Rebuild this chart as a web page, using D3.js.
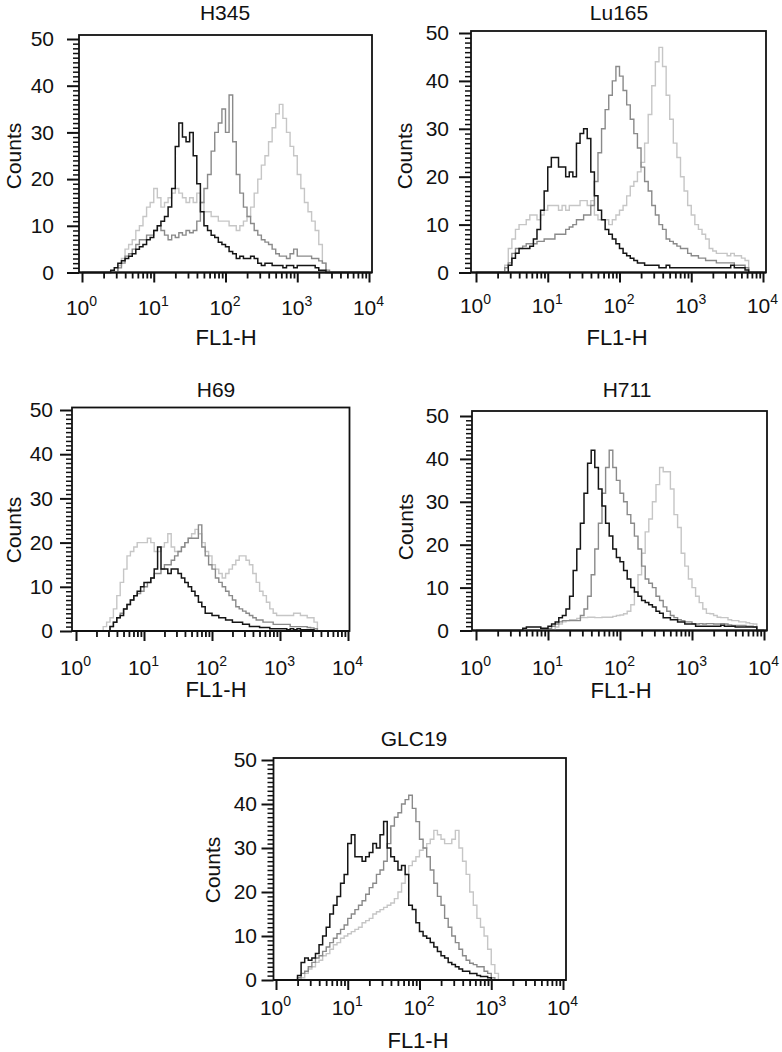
<!DOCTYPE html>
<html>
<head>
<meta charset="utf-8">
<script src="https://cdn.jsdelivr.net/npm/d3@7"></script>
<style>
  html, body { margin: 0; padding: 0; background: #ffffff; }
  svg { display: block; font-family: "Liberation Sans", Arial, Helvetica, sans-serif; }
</style>
</head>
<body>
<svg id="chart" width="782" height="1052"></svg>
<script>
// ---------------- DATA ----------------
// Histograms: counts per log-bin of width 0.05 decades, from 10^0 to 10^4 (80 bins)
const binWidthLog = 0.05;
const cellLines = ["H345", "Lu165", "H69", "H711", "GLC19"];
const xTickExps = [0, 1, 2, 3, 4];
const yTickValues = [0, 10, 20, 30, 40, 50];
const xAxisTitle = "FL1-H";
const yAxisTitle = "Counts";

const h345Black = [
  0,0,0,0,0,0,0,0,0.5,1,
  2,2.5,3,3.5,4,5,5.5,6,7,7.5,
  9,10,11,12,14,18,27,32,29,28,
  30,25,19,13,10,9,8,7.5,6.5,6,
  5.5,4.5,4,3,3.5,3,3,3.5,3,2,
  1.5,2,2,1.5,1.5,1.5,1,1.5,1.5,1,
  1.5,1.5,1.5,1.5,1.5,1,0.5,0.5,0,0,
  0,0,0,0,0,0,0,0,0,0];
const h345Mid = [
  0,0,0,0,0,0,0,0,0,0,
  1,2,3.5,4,5,6,7,7,8,8,
  9,10,9,8,7,8,7.5,8.5,8,9,
  8.5,9,11,15,18,21,26,30,32,35,
  30,38,28,21,17,14,12,10.5,9,8,
  7,6.5,6,5,4,3.5,3.5,3,4,5,
  3.5,3.5,3.5,3.5,3,3,2.5,2,0.5,0,
  0,0,0,0,0,0,0,0,0,0];
const h345Light = [
  0,0,0,0,0,0,0,0,0,0,
  1.5,3,5,6,7,9,10,12,14,15,
  18,16,14,15,16,17,18,17,16,15,
  16,15,17,15,13,13,12,12,11,11,
  11,10,10,9,10,11,12,14,17,20,
  23,25,28,31,34,36,33,30,27,25,
  21,18,15,13,11,9,6,2,0,0,
  0,0,0,0,0,0,0,0,0,0];

const lu165Black = [
  0,0,0,0,0,0,0,0,0,1.5,
  3,4,5,5,5,5.5,7,9,13,17,
  22,24,24,22,22,20,21,20,27,29,
  30,28,21,16,13,11,9,8,7,6,
  5,4,3.5,3,2.5,2,2,1.5,1.5,1.5,
  1.5,1,1,1.5,1,1,1,1,1,1,
  1,1,1,1,1,1,1,1,1,1,
  1,1.5,1,1,1,0.5,0,0,0,0];
const lu165Mid = [
  0,0,0,0,0,0,0,0,1,2,
  4,5,5,5.5,6,6,6,6.5,6.5,7,
  7,7,8,8,8,9,9.5,10,11,11,
  12,12,14,19,25,30,34,37,40,43,
  41,38,35,32,29,26,22,19,17,14,
  12,10,9,7,6.5,6,5.5,5,5,4,
  3.5,3.5,3,3,2.5,2.5,2.5,2,2,2,
  2,2,1.5,1.5,1.5,1,0,0,0,0];
const lu165Light = [
  0,0,0,0,0,0,0,0,1.5,5,
  7,9,10,10,11,12,12,11,12,13,
  14,14,14,13,14,13,14,14,14,15,
  15,14,15,12,11,11,11,10,11,12,
  13,14,16,18,19,21,23,27,33,39,
  44,47,43,37,32,27,24,20,17,14,
  12,10,9,8,7,5,4.5,4,4,4,
  3.5,4,3.5,3.5,3,2.5,0,0,0,0];

const h69Black = [
  0,0,0,0,0,0,0,0,0,0,
  1,2,3,3.5,5,6,7,8,9,10,
  11,11,12,14,19,14,14,13,14,14,
  13,12,11,10,9,8,6.5,5.5,4,4,
  3.5,3.5,3,3,2.5,2.5,2,2,2,1.5,
  1.5,1,1,1,0.8,0.8,0.8,0.5,0.5,0.5,
  0.5,0.5,0.3,0.5,0.3,0.5,0.3,0.3,0.3,0.3,
  0,0,0,0,0,0,0,0,0,0];
const h69Mid = [
  0,0,0,0,0,0,0,0,0,0,
  1,2,3,4,5,6,7,8,8.5,9,
  10,11,12,13,13,14,15,15,16,17,
  18,19,20,21,21,21,24,19,17,15,
  14,12,11,10,9,8,7,5.5,5,4.5,
  4,3.5,3,2.5,2.5,2,2,2,1.5,1.5,
  1.5,1.5,1.5,1,1,1,1,1,0.8,0.7,
  0.5,0,0,0,0,0,0,0,0,0];
const h69Light = [
  0,0,0,0,0,0,0,0,1,2,
  3,5,8,11,14,17,18,19,20,20,
  20,21,20,18,18,19,20,22,19,18,
  18,19,20,21,22,23,22,20,18,17,
  15,14,13,12,13,14,15,16,17,17,
  16,15,13,11,9,8,6.5,5,4,3.5,
  3.5,3.5,3.5,3.5,4,4,3.5,3.5,3,3,
  2,0,0,0,0,0,0,0,0,0];

const h711Black = [
  0,0,0,0,0,0,0,0,0,0,
  0,0,0,0.5,0.8,0.8,0.8,0.8,0.5,0.5,
  1,1.5,2,3,3.5,5,8,14,19,25,
  32,39,42,38,33,29,25,22,19,17,
  16,14,12,10,9,8,7,6.5,6,5.5,
  4.5,4,3,3,2.5,2.5,2,2,1.5,1.5,
  1.5,1,1,1,1,1,1,1,1.2,1,
  1,1,0.8,0.8,0.8,0.8,0.8,0.8,0,0];
const h711Mid = [
  0,0,0,0,0,0,0,0,0,0,
  0,0,0,0,0,0,0,0,0,0,
  0.5,1,1.5,2,2.3,2.3,2.3,2.3,2.3,3.5,
  5,8,13,19,25,32,38,42,38,35,
  32,30,27,25,22,19,15,12,11,10,
  8,7,5.5,4.5,3.5,3,2.5,2.3,2,2,
  1.6,1.5,1.6,1.5,1.6,1.6,1.5,1.5,1.6,1.5,
  1.3,1.2,1.2,1.2,1.2,1,1,0.8,0,0];
const h711Light = [
  0,0,0,0,0,0,0,0,0,0,
  0,0,0,0,0,0,0,0,0,0,
  0,0,0.8,1.5,2,2.3,2.5,2.5,2.8,3,
  3,3.1,3.1,3,3,3.1,3.1,3.1,3.3,3.5,
  3.6,3.9,4.5,6,9,13,18,23,26,30,
  34,38,37,37,33,27,24,18,15,12,
  10,8,6.5,5,4,3.9,3.5,3.1,3,3,
  2.5,2.3,2.3,2,2,1.8,1.6,1.5,0,0];

const glc19Black = [
  0,0,0,0,0,0,1,4,5,4.5,
  5,6,8,10,12,15,17,19,22,24,
  31,33,28,28,27,28,29,31,30,33,
  36,30,28,27,25,26,24,17,16,13,
  11,10,9.5,8.5,7.5,6.5,5.5,5,4,3.5,
  3,2.5,2,2,1.5,1.5,1,0.8,0.8,0.5,
  0,0,0,0,0,0,0,0,0,0,
  0,0,0,0,0,0,0,0,0,0];
const glc19Mid = [
  0,0,0,0,0,0,0.5,1.5,2,3,
  4,5,5.5,6.5,7.5,8.5,9.5,10.5,11.5,12.5,
  14,15,16,17,18,19.5,21,22,24,25,
  27,31,35,37,38,40,41,42,39,36,
  32,30,28,25,22,19,17,14,12,10,
  8.5,7,5.5,4.5,3.8,3.5,3,3,2,1.5,
  0.5,0,0,0,0,0,0,0,0,0,
  0,0,0,0,0,0,0,0,0,0];
const glc19Light = [
  0,0,0,0,0,0,0,0.5,1.5,2.5,
  3,4,4.5,5.5,6,7,8,8.5,9.5,10,
  10.5,11,11.5,12,13,13.5,14,15,15.5,16,
  16.5,17,17.5,18.5,20,22,24,26,27,28,
  29.5,30,31,32,34,33,32,31,31,32,
  34,30,27,24,20,17,14,12,10,7,
  3.5,1.5,0,0,0,0,0,0,0,0,
  0,0,0,0,0,0,0,0,0,0];

// ---------------- LAYOUT / STYLE ----------------
const seriesColors = ["#c6c6c6", "#8a8a8a", "#151515"]; // light, mid, black (draw order)
const fs = { tick: 21, sup: 14, title: 21, xTitle: 22, yTitle: 21 };

const panels = [
  { title: cellLines[0], series: [h345Light, h345Mid, h345Black],
    xl: 82, xr: 369, y0: 272.5, y50: 39, bl: 79, br: 372, bt: 35,
    tx: 225, ty: 20, labR: 54, xlabY: 315, fx: 226, fy: 345, cx: 13, cy: 156 },
  { title: cellLines[1], series: [lu165Light, lu165Mid, lu165Black],
    xl: 476, xr: 763, y0: 272.5, y50: 33, bl: 471, br: 766, bt: 31,
    tx: 619, ty: 20, labR: 449, xlabY: 313, fx: 617, fy: 345, cx: 404, cy: 156 },
  { title: cellLines[2], series: [h69Light, h69Mid, h69Black],
    xl: 76, xr: 348, y0: 631, y50: 410, bl: 72, br: 349.5, bt: 407.5,
    tx: 216, ty: 397, labR: 53, xlabY: 675, fx: 216, fy: 697, cx: 13, cy: 530 },
  { title: cellLines[3], series: [h711Light, h711Mid, h711Black],
    xl: 476, xr: 764, y0: 630.5, y50: 416, bl: 472, br: 767, bt: 411,
    tx: 627, ty: 397, labR: 449, xlabY: 675, fx: 621, fy: 698, cx: 405, cy: 527 },
  { title: cellLines[4], series: [glc19Light, glc19Mid, glc19Black],
    xl: 276, xr: 563, y0: 980, y50: 760, bl: 273.5, br: 566, bt: 758,
    tx: 414, ty: 746, labR: 257, xlabY: 1015, fx: 418, fy: 1048, cx: 212, cy: 870 }
];

const svg = d3.select("#chart");
svg.append("rect").attr("width", 782).attr("height", 1052).attr("fill", "#fff");

panels.forEach(p => {
  const g = svg.append("g");
  const x = d3.scaleLog().domain([1, 1e4]).range([p.xl, p.xr]);
  const y = d3.scaleLinear().domain([0, 50]).range([p.y0, p.y50]);

  // frame
  g.append("rect")
    .attr("x", p.bl).attr("y", p.bt)
    .attr("width", p.br - p.bl).attr("height", p.y0 - p.bt)
    .attr("fill", "#fff").attr("stroke", "#111").attr("stroke-width", 1.8);

  // histograms
  const line = d3.line()
    .x(d => x(d[0])).y(d => y(d[1]))
    .curve(d3.curveStepAfter);
  p.series.forEach((vals, si) => {
    const pts = vals.map((v, i) => [Math.pow(10, i * binWidthLog), v]);
    pts.push([1e4, vals[vals.length - 1]]);
    g.append("path")
      .attr("d", line(pts))
      .attr("fill", "none")
      .attr("stroke", seriesColors[si])
      .attr("stroke-width", si === 2 ? 1.5 : 1.4)
      .attr("stroke-linejoin", "miter");
  });

  const majors = xTickExps.map(e => Math.pow(10, e));
  // x axis: minor ticks
  g.append("g")
    .attr("transform", `translate(0,${p.y0})`)
    .call(d3.axisBottom(x).tickValues(x.ticks().filter(v => !majors.includes(v)))
      .tickSize(6).tickFormat("").tickSizeOuter(0))
    .call(a => a.select(".domain").remove())
    .call(a => a.selectAll("line").attr("stroke", "#111").attr("stroke-width", 1.8));
  // x axis: major ticks + labels
  const xMajor = g.append("g")
    .attr("transform", `translate(0,${p.y0})`)
    .call(d3.axisBottom(x).tickValues(majors)
      .tickSize(10).tickFormat("").tickSizeOuter(0))
    .call(a => a.select(".domain").remove())
    .call(a => a.selectAll("line").attr("stroke", "#111").attr("stroke-width", 2));
  xMajor.selectAll(".tick").each(function(d) {
    const t = d3.select(this).append("text")
      .attr("y", p.xlabY - p.y0)
      .attr("x", -1)
      .attr("text-anchor", "middle")
      .attr("fill", "#111")
      .attr("font-size", fs.tick)
      .attr("font-family", "'Liberation Sans', Arial, sans-serif");
    t.append("tspan").text("10");
    t.append("tspan").attr("dy", -9).attr("font-size", fs.sup).text(String(Math.round(Math.log10(d))));
  });
  // axis line
  g.append("line")
    .attr("x1", p.bl).attr("x2", p.br)
    .attr("y1", p.y0).attr("y2", p.y0)
    .attr("stroke", "#111").attr("stroke-width", 2);

  // y axis: minor ticks (every count)
  g.append("g")
    .attr("transform", `translate(${p.bl},0)`)
    .call(d3.axisLeft(y).tickValues(d3.range(0, 51).filter(v => v % 10 !== 0))
      .tickSize(6).tickFormat("").tickSizeOuter(0))
    .call(a => a.select(".domain").remove())
    .call(a => a.selectAll("line").attr("stroke", "#111").attr("stroke-width", 1.5));
  // y axis: major ticks + labels
  g.append("g")
    .attr("transform", `translate(${p.bl},0)`)
    .call(d3.axisLeft(y).tickValues(yTickValues).tickSize(12)
      .tickPadding(p.bl - p.labR - 12).tickSizeOuter(0))
    .call(a => a.select(".domain").remove())
    .call(a => a.selectAll("line").attr("stroke", "#111").attr("stroke-width", 2))
    .call(a => a.selectAll("text").attr("font-size", fs.tick).attr("fill", "#111")
      .attr("font-family", "'Liberation Sans', Arial, sans-serif"));

  // titles
  g.append("text").attr("x", p.tx).attr("y", p.ty)
    .attr("text-anchor", "middle").attr("font-size", fs.title).attr("fill", "#111")
    .text(p.title);
  g.append("text").attr("x", p.fx).attr("y", p.fy)
    .attr("text-anchor", "middle").attr("font-size", fs.xTitle).attr("fill", "#111")
    .text(xAxisTitle);
  g.append("text")
    .attr("transform", `translate(${p.cx},${p.cy}) rotate(-90)`)
    .attr("text-anchor", "middle").attr("dominant-baseline", "central")
    .attr("font-size", fs.yTitle).attr("fill", "#111")
    .text(yAxisTitle);
});
</script>
</body>
</html>
